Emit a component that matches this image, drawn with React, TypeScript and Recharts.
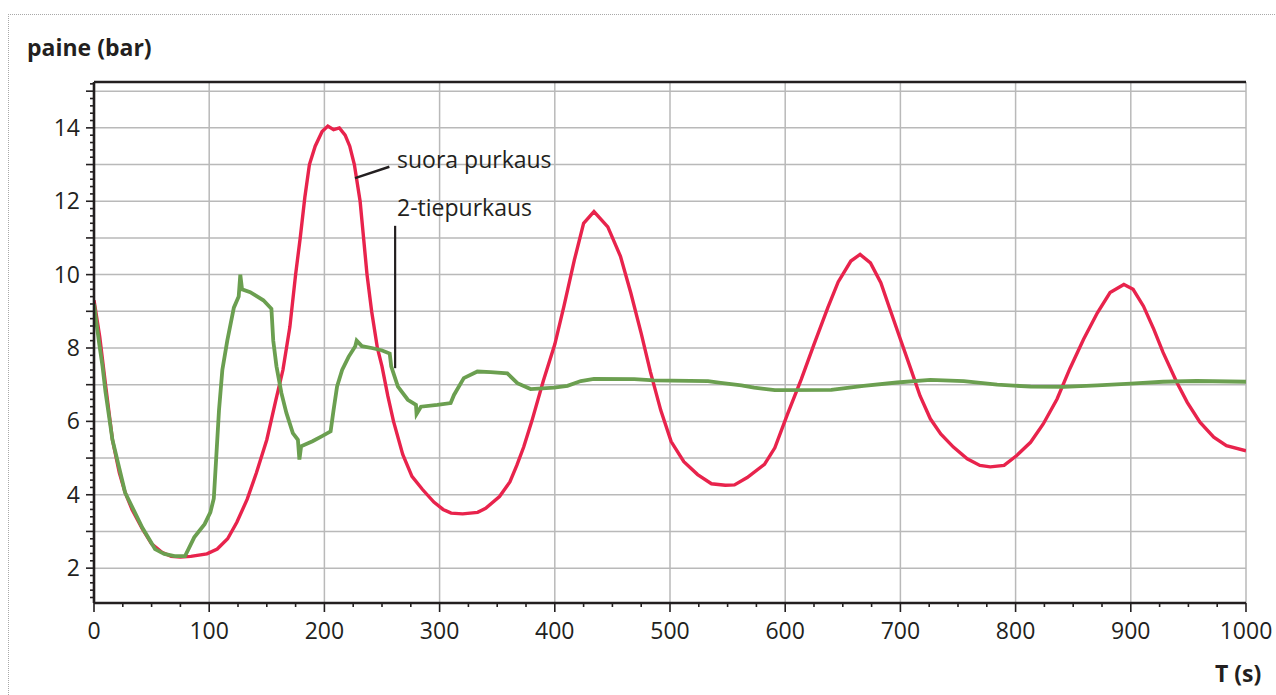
import { LineChart, Line, XAxis, YAxis, ReferenceLine } from "recharts";

// time (s), pressure (bar)
const SUORA: [number, number][] = [
  [0, 9.3], [5, 8.3], [10, 7.0], [16, 5.5], [22, 4.6], [27, 4.06], [33, 3.6], [42, 3.07], [50, 2.66],
  [59, 2.43], [67, 2.32], [75, 2.3], [84, 2.32], [98, 2.39], [107, 2.52], [116, 2.8], [124, 3.25],
  [133, 3.88], [141, 4.6], [150, 5.5], [158, 6.6], [164, 7.4], [170, 8.57], [175, 10.0], [179, 11.0],
  [183, 12.1], [187, 13.0], [192, 13.5], [198, 13.9], [203, 14.05], [208, 13.95], [213, 14.0],
  [218, 13.8], [222, 13.5], [226, 13.0], [231, 12.0], [234, 11.0], [237, 10.0], [241, 9.0], [246, 8.0],
  [250, 7.5], [255, 6.7], [260, 6.0], [268, 5.1], [276, 4.5], [285, 4.15], [295, 3.8], [303, 3.6],
  [310, 3.5], [320, 3.48], [333, 3.52], [340, 3.63], [352, 3.95], [361, 4.35], [367, 4.8], [373, 5.3],
  [380, 6.0], [390, 7.1], [400, 8.1], [408, 9.15], [417, 10.4], [425, 11.4], [434, 11.72], [446, 11.3],
  [457, 10.5], [466, 9.5], [475, 8.4], [483, 7.35], [492, 6.3], [501, 5.45], [512, 4.9], [524, 4.55],
  [536, 4.3], [548, 4.26], [556, 4.27], [567, 4.47], [582, 4.83], [591, 5.28], [602, 6.2], [614, 7.15],
  [625, 8.1], [637, 9.1], [646, 9.8], [657, 10.37], [665, 10.55], [674, 10.32], [683, 9.78], [691, 9.05],
  [700, 8.24], [709, 7.43], [717, 6.7], [726, 6.07], [735, 5.66], [746, 5.3], [758, 4.98], [769, 4.8],
  [778, 4.76], [790, 4.8], [801, 5.07], [813, 5.43], [824, 5.93], [836, 6.61], [847, 7.43], [859, 8.24],
  [871, 8.96], [882, 9.51], [894, 9.73], [902, 9.6], [911, 9.14], [920, 8.51], [928, 7.88], [940, 7.06],
  [949, 6.52], [960, 5.98], [972, 5.57], [983, 5.34], [1000, 5.2],
];

const KAKSITIE: [number, number][] = [
  [0, 9.2], [4.6, 8.1], [7.4, 7.5], [10, 6.8], [16, 5.5], [27, 4.06], [42, 3.1], [53, 2.52], [61, 2.39],
  [70, 2.33], [79, 2.33], [82, 2.52], [87, 2.84], [96, 3.2], [101, 3.52], [104, 3.9], [106, 4.96],
  [108.5, 6.3], [111.4, 7.4], [115.7, 8.2], [121.4, 9.1], [125.6, 9.4], [127, 10.0], [128.5, 9.6],
  [135.6, 9.52], [147, 9.3], [154, 9.07], [155.6, 8.2], [158.4, 7.5], [162.7, 6.77], [167, 6.23],
  [172.6, 5.68], [177, 5.5], [178.3, 4.96], [179.8, 5.32], [189.7, 5.46], [198, 5.6], [205.4, 5.73],
  [208, 6.32], [211, 6.95], [215.4, 7.4], [221, 7.76], [226.8, 8.05], [228, 8.2], [232.5, 8.05],
  [241, 8.0], [249.6, 7.94], [256.7, 7.85], [258, 7.5], [263.8, 6.95], [272.4, 6.59], [279.5, 6.45],
  [280, 6.2], [283.8, 6.4], [298, 6.45], [309.6, 6.5], [312.5, 6.72], [321, 7.18], [332.8, 7.36],
  [344.3, 7.34], [358.8, 7.31], [367.5, 7.04], [379, 6.88], [399.4, 6.92], [411, 6.97], [422.6, 7.1],
  [434, 7.16], [469, 7.15], [486, 7.12], [533, 7.1], [544, 7.05], [562, 6.98], [573, 6.92], [591, 6.85],
  [640, 6.86], [668, 6.97], [697, 7.06], [726, 7.13], [755, 7.1], [784, 7.0], [813, 6.95], [842, 6.94],
  [871, 6.98], [900, 7.03], [928, 7.08], [957, 7.1], [1000, 7.08],
];

const X_LABELS = [0, 100, 200, 300, 400, 500, 600, 700, 800, 900, 1000];
const Y_LABELS = [2, 4, 6, 8, 10, 12, 14];
const GRID_X = [100, 200, 300, 400, 500, 600, 700, 800, 900, 1000];
const GRID_Y = [2, 3, 4, 5, 6, 7, 8, 9, 10, 11, 12, 13, 14, 15];

const X_TICKS = Array.from({ length: 41 }, (_, i) => i * 25);
const Y_TICKS = Array.from({ length: 71 }, (_, i) => Math.round((1.2 + i * 0.2) * 10) / 10);

const Y_MIN = 1.05;
const Y_MAX = 15.25;

const RED = "#e8234c";
const GREEN = "#6b9f50";
const INK = "#231f20";
const FONT = "'Open Sans', 'Noto Sans', sans-serif";

const suoraData = SUORA.map(([t, p]) => ({ t, p }));
const kaksitieData = KAKSITIE.map(([t, p]) => ({ t, p }));

function XTick({ x, y, payload }: any) {
  const v = payload.value;
  const major = v % 100 === 0;
  return (
    <g>
      <line x1={x} x2={x} y1={y} y2={y + (major ? 9 : 4)} stroke={INK} strokeWidth={1.6} />
      {major && X_LABELS.includes(v) && (
        <text x={x} y={y + 36} textAnchor="middle" fontSize={23} fill={INK} fontFamily={FONT}>
          {v}
        </text>
      )}
    </g>
  );
}

function YTick({ x, y, payload }: any) {
  const v = payload.value;
  const whole = Math.abs(v - Math.round(v)) < 1e-6;
  return (
    <g>
      <line x1={x - (whole ? 8 : 4)} x2={x} y1={y} y2={y} stroke={INK} strokeWidth={1.6} />
      {whole && Y_LABELS.includes(Math.round(v)) && (
        <text x={x - 14} y={y + 8} textAnchor="end" fontSize={23} fill={INK} fontFamily={FONT}>
          {Math.round(v)}
        </text>
      )}
    </g>
  );
}

const label = (top: number, left: number, text: string, bold = false) => (
  <div
    style={{
      position: "absolute",
      top,
      left,
      fontFamily: FONT,
      fontSize: 23,
      fontWeight: bold ? 700 : 400,
      lineHeight: 1,
      color: INK,
      whiteSpace: "nowrap",
    }}
  >
    {text}
  </div>
);

export default function App() {
  return (
    <div style={{ position: "absolute", left: 0, top: 0, width: 1276, height: 695, background: "#fff", overflow: "hidden" }}>
      <div
        style={{
          position: "absolute",
          left: 8,
          top: 14,
          width: 1280,
          height: 700,
          borderTop: "1px dotted #a8a8a8",
          borderLeft: "1px dotted #a8a8a8",
        }}
      />
      <LineChart width={1276} height={695} margin={{ top: 82, right: 30, bottom: 0, left: 0 }} style={{ position: "absolute", left: 0, top: 0 }}>
        <XAxis
          dataKey="t"
          type="number"
          domain={[0, 1000]}
          allowDataOverflow
          ticks={X_TICKS}
          interval={0}
          height={92}
          tickSize={0}
          tickMargin={0}
          tickLine={false}
          tick={<XTick />}
          axisLine={{ stroke: INK, strokeWidth: 2.6 }}
        />
        <YAxis
          type="number"
          domain={[Y_MIN, Y_MAX]}
          allowDataOverflow
          ticks={Y_TICKS}
          interval={0}
          width={94}
          tickSize={0}
          tickMargin={0}
          tickLine={false}
          tick={<YTick />}
          axisLine={{ stroke: INK, strokeWidth: 2.6 }}
        />
        {GRID_Y.map((v) => (
          <ReferenceLine key={"gy" + v} y={v} stroke="#b9b9b9" strokeWidth={1.5} />
        ))}
        {GRID_X.map((v) => (
          <ReferenceLine key={"gx" + v} x={v} stroke="#b9b9b9" strokeWidth={1.5} />
        ))}
        <ReferenceLine y={Y_MAX} stroke={INK} strokeWidth={2.6} />
        <Line data={suoraData} dataKey="p" type="linear" stroke={RED} strokeWidth={3.4} dot={false} isAnimationActive={false} />
        <Line data={kaksitieData} dataKey="p" type="linear" stroke={GREEN} strokeWidth={3.8} dot={false} isAnimationActive={false} />
        {/* leader lines for the two labels */}
        <ReferenceLine segment={[{ x: 226.6, y: 12.63 }, { x: 256.4, y: 12.94 }]} stroke={INK} strokeWidth={2.4} />
        <ReferenceLine segment={[{ x: 261.4, y: 11.33 }, { x: 261.4, y: 7.45 }]} stroke={INK} strokeWidth={2.2} />
      </LineChart>
      {label(36, 27, "paine (bar)", true)}
      {label(662, 1215, "T (s)", true)}
      {label(148, 397, "suora purkaus")}
      {label(196, 397, "2-tiepurkaus")}
    </div>
  );
}
